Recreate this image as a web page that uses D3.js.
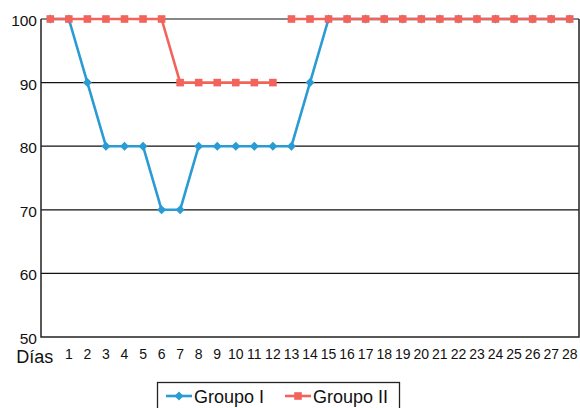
<!DOCTYPE html>
<html>
<head>
<meta charset="utf-8">
<script src="https://cdn.jsdelivr.net/npm/d3@7/dist/d3.min.js"></script>
<style>
  html, body { margin: 0; padding: 0; background: #fff; }
  svg { display: block; font-family: "Liberation Sans", Arial, Helvetica, sans-serif; }
</style>
</head>
<body>
<svg id="chart" width="580" height="408"></svg>
<script>
// Category labels: the first slot carries the axis caption
const categories = ["Días", "1", "2", "3", "4", "5", "6", "7", "8", "9", "10", "11", "12", "13", "14",
  "15", "16", "17", "18", "19", "20", "21", "22", "23", "24", "25", "26", "27", "28"];

const groupI = [100, 100, 90, 80, 80, 80, 70, 70, 80, 80, 80, 80, 80, 80, 90,
  100, 100, 100, 100, 100, 100, 100, 100, 100, 100, 100, 100, 100, 100];

const groupII = [100, 100, 100, 100, 100, 100, 100, 90, 90, 90, 90, 90, 90, 100, 100,
  100, 100, 100, 100, 100, 100, 100, 100, 100, 100, 100, 100, 100, 100];

// Group II line is not joined across this category index
const groupIIBreakBefore = [13];

const yTicks = [50, 60, 70, 80, 90, 100];
const seriesNames = ["Groupo I", "Groupo II"];

const colors = { g1: "#2a9bd3", g2: "#f2645b" };

const svg = d3.select("#chart");
const plot = { left: 41, right: 579, top: 19, bottom: 337 };

const x = d3.scaleBand()
  .domain(categories.map((d, i) => i))
  .range([plot.left, plot.right])
  .padding(0);

const y = d3.scaleLinear()
  .domain([50, 100])
  .range([plot.bottom, plot.top]);

const cx = i => x(i) + x.bandwidth() / 2;

// Horizontal grid lines
svg.append("g")
  .selectAll("line")
  .data(yTicks.filter(t => t > 50))
  .join("line")
  .attr("x1", plot.left).attr("x2", plot.right)
  .attr("y1", d => y(d)).attr("y2", d => y(d))
  .attr("stroke", "#111").attr("stroke-width", 1.2);

// Y axis
const yAxis = svg.append("g")
  .attr("transform", `translate(${plot.left},0)`)
  .call(d3.axisLeft(y).tickValues(yTicks).tickSize(0).tickPadding(4));
yAxis.select(".domain").remove();
yAxis.selectAll("text")
  .attr("font-size", 15.5)
  .attr("fill", "#111")
  .attr("dy", "0.42em")
  .style("font-family", "'Liberation Sans', Arial, sans-serif");

// Frame: left, bottom, right
svg.append("path")
  .attr("d", `M${plot.left},${plot.top}V${plot.bottom}H${plot.right}V${plot.top}`)
  .attr("fill", "none")
  .attr("stroke", "#222")
  .attr("stroke-width", 1.5);

// X axis labels
const xAxis = svg.append("g")
  .attr("transform", `translate(0,${plot.bottom})`)
  .call(d3.axisBottom(x).tickFormat(i => categories[i]).tickSize(0).tickPadding(12));
xAxis.select(".domain").remove();
xAxis.selectAll("text")
  .attr("font-size", 14)
  .attr("fill", "#111")
  .style("font-family", "'Liberation Sans', Arial, sans-serif");
xAxis.selectAll(".tick")
  .filter(i => i === 0)
  .select("text")
  .attr("font-size", 18)
  .attr("text-anchor", "end")
  .attr("x", 3)
  .attr("dy", "0.8em");

// Series lines
const line = d3.line()
  .x(d => cx(d.i))
  .y(d => y(d.v));

const pts1 = groupI.map((v, i) => ({ i, v }));
const pts2 = groupII.map((v, i) => ({ i, v }));

// split Group II into runs at the break indices
const runs2 = [];
let cur = [];
pts2.forEach(p => {
  if (groupIIBreakBefore.includes(p.i) && cur.length) { runs2.push(cur); cur = []; }
  cur.push(p);
});
if (cur.length) runs2.push(cur);

svg.append("path")
  .datum(pts1)
  .attr("d", line)
  .attr("fill", "none")
  .attr("stroke", colors.g1)
  .attr("stroke-width", 2.6)
  .attr("stroke-linejoin", "round");

const diamond = d3.symbol().type(d3.symbolDiamond2).size(52);
svg.append("g")
  .selectAll("path")
  .data(pts1)
  .join("path")
  .attr("transform", d => `translate(${cx(d.i)},${y(d.v)})`)
  .attr("d", diamond)
  .attr("fill", colors.g1);

svg.append("g")
  .selectAll("path")
  .data(runs2)
  .join("path")
  .attr("d", line)
  .attr("fill", "none")
  .attr("stroke", colors.g2)
  .attr("stroke-width", 2.6)
  .attr("stroke-linejoin", "round");

svg.append("g")
  .selectAll("rect")
  .data(pts2)
  .join("rect")
  .attr("x", d => cx(d.i) - 3.8)
  .attr("y", d => y(d.v) - 3.8)
  .attr("width", 7.6)
  .attr("height", 7.6)
  .attr("fill", colors.g2);

// Legend
const legend = svg.append("g");
legend.append("rect")
  .attr("x", 157.5).attr("y", 382.5)
  .attr("width", 242).attr("height", 32)
  .attr("fill", "#fff")
  .attr("stroke", "#222").attr("stroke-width", 1.3);

const legendItems = [
  { name: seriesNames[0], color: colors.g1, x0: 166, shape: "diamond" },
  { name: seriesNames[1], color: colors.g2, x0: 285, shape: "square" }
];
const ly = 396;
legendItems.forEach(it => {
  legend.append("line")
    .attr("x1", it.x0).attr("x2", it.x0 + 26)
    .attr("y1", ly).attr("y2", ly)
    .attr("stroke", it.color).attr("stroke-width", 2.6);
  if (it.shape === "diamond") {
    legend.append("path")
      .attr("transform", `translate(${it.x0 + 13},${ly})`)
      .attr("d", diamond)
      .attr("fill", it.color);
  } else {
    legend.append("rect")
      .attr("x", it.x0 + 13 - 3.8).attr("y", ly - 3.8)
      .attr("width", 7.6).attr("height", 7.6)
      .attr("fill", it.color);
  }
  legend.append("text")
    .attr("x", it.x0 + 28)
    .attr("y", ly + 6.5)
    .attr("font-size", 18)
    .attr("fill", "#111")
    .text(it.name);
});
</script>
</body>
</html>
